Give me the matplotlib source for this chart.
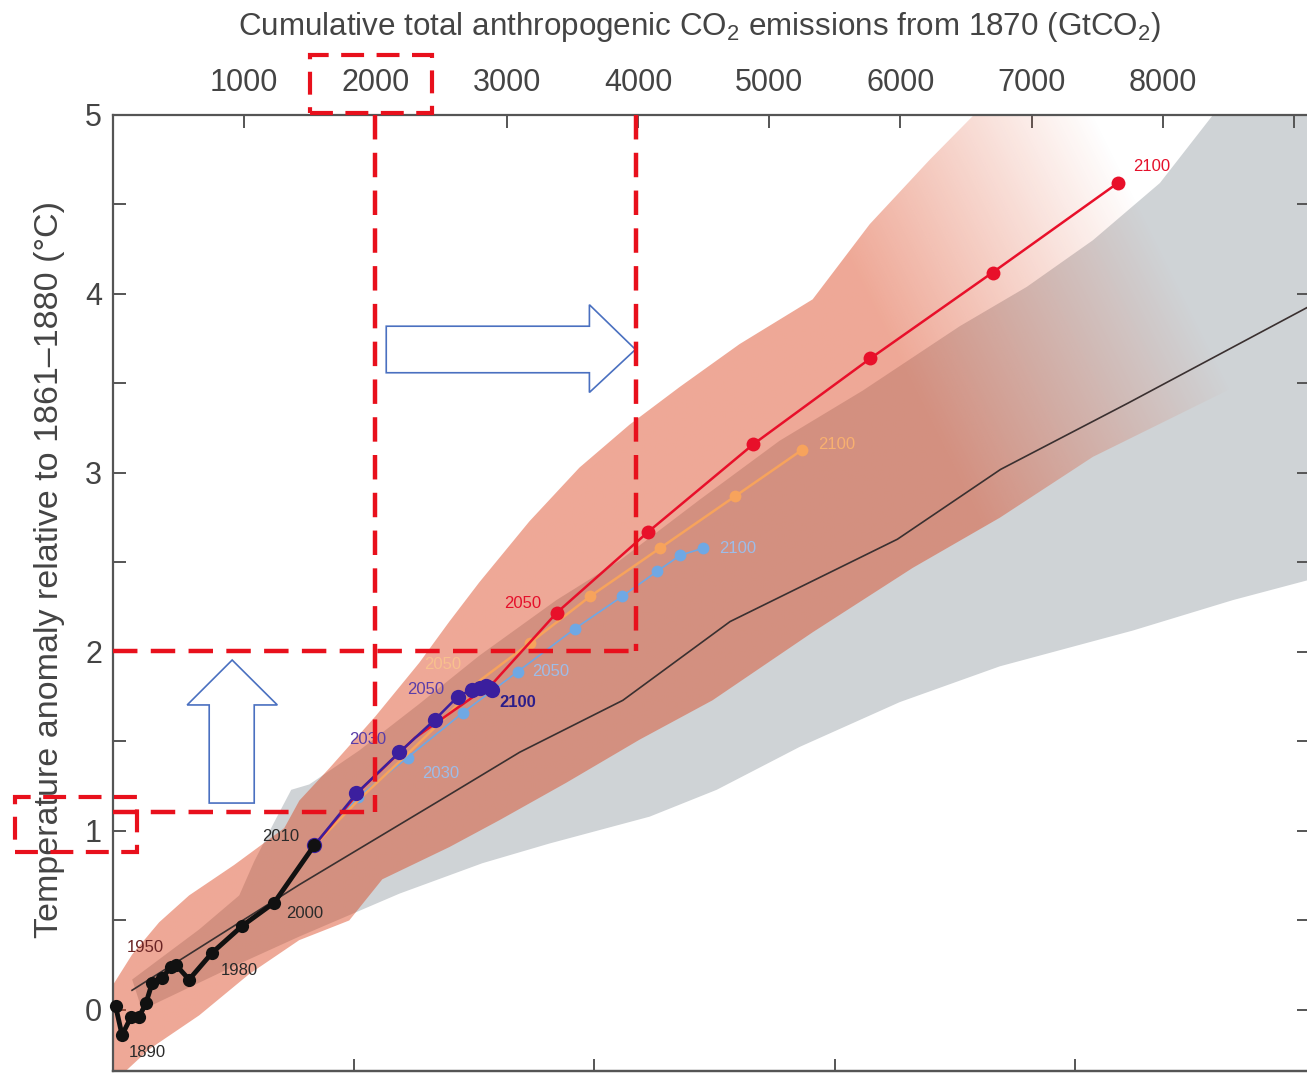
import numpy as np
import matplotlib
matplotlib.use('Agg')
import matplotlib.pyplot as plt
from matplotlib.path import Path
from matplotlib.patches import PathPatch, Polygon, Rectangle
from matplotlib.ticker import FixedLocator, MultipleLocator

plt.rcParams['font.family'] = ['Liberation Sans', 'DejaVu Sans']
plt.rcParams['mathtext.fontset'] = 'custom'
plt.rcParams['mathtext.rm'] = 'Liberation Sans'
plt.rcParams['mathtext.default'] = 'regular'

# ---------------- data (GtCO2, degC) ----------------
hist_G = [20, 69, 137, 198, 252, 298, 374, 443, 481, 580, 756, 985, 1229, 1534]
hist_T = [0.02, -0.14, -0.04, -0.04, 0.04, 0.15, 0.18, 0.24, 0.25, 0.17, 0.32, 0.47, 0.60, 0.92]

mean_G = [145, 1420, 2489, 3099, 3885, 4702, 5977, 6763, 7733, 9113]
mean_T = [0.11, 0.70, 1.17, 1.44, 1.73, 2.17, 2.63, 3.02, 3.39, 3.93]

rcp26_G = [1534, 1855, 2183, 2450, 2626, 2733, 2794, 2840, 2870, 2885]
rcp26_T = [0.92, 1.21, 1.44, 1.62, 1.75, 1.79, 1.80, 1.81, 1.80, 1.79]
rcp45_G = [1534, 1870, 2244, 2664, 3084, 3519, 3878, 4145, 4321, 4496]
rcp45_T = [0.92, 1.19, 1.41, 1.66, 1.89, 2.13, 2.31, 2.45, 2.54, 2.58]
rcp60_G = [1534, 1880, 2230, 2540, 2794, 3176, 3634, 4168, 4740, 5252]
rcp60_T = [0.92, 1.18, 1.42, 1.64, 1.84, 2.05, 2.31, 2.58, 2.87, 3.13]
rcp85_G = [1534, 1900, 2300, 2900, 3382, 4076, 4878, 5771, 6702, 7656]
rcp85_T = [0.92, 1.24, 1.52, 1.83, 2.22, 2.67, 3.16, 3.64, 4.12, 4.62]

# RCP range (upper edge left->right, lower edge right->left)
rcp_rng_G = [0, 146, 352, 580, 923, 1305, 1420, 1648, 1999, 2334, 2563, 2792, 3173, 3554,
             3936, 4317, 4774, 5331, 5766, 6223, 6559, 6833, 10569,
             10569, 9807, 9098, 8488, 7466, 6757, 6094, 5331, 4568, 4012, 3455,
             2944, 2563, 2052, 1800, 1419, 1037, 657, 275, 84, 0]
rcp_rng_T = [0.14, 0.31, 0.49, 0.64, 0.81, 1.016, 1.17, 1.35, 1.64, 1.94, 2.17, 2.39, 2.73, 3.03,
             3.27, 3.48, 3.72, 3.97, 4.39, 4.75, 5.00, 5.20, 5.20,
             4.19, 3.98, 3.70, 3.46, 3.09, 2.75, 2.47, 2.11, 1.73, 1.51, 1.27,
             1.06, 0.91, 0.73, 0.50, 0.39, 0.20, -0.03, -0.22, -0.35, -0.39]

# 1%/yr CO2 range
pct_rng_G = [146, 657, 962, 1076, 1229, 1358, 1496, 1877, 2334, 2792, 3379, 3859, 4469,
             5079, 5712, 6452, 6963, 7466, 7977, 8381, 8663, 10569,
             10569, 9099, 8534, 7772, 6758, 5995, 5233, 4600, 4089, 3326, 2815,
             2183, 1801, 1419, 908, 221]
pct_rng_T = [0.17, 0.45, 0.64, 0.83, 1.05, 1.23, 1.26, 1.45, 1.71, 1.98, 2.29, 2.51, 2.85,
             3.18, 3.46, 3.82, 4.04, 4.30, 4.62, 5.00, 5.31, 5.31,
             2.68, 2.40, 2.29, 2.12, 1.92, 1.72, 1.47, 1.23, 1.08, 0.93, 0.82,
             0.65, 0.53, 0.41, 0.24, 0.0]

top_ticks = [1000, 2000, 3000, 4000, 5000, 6000, 7000, 8000, 9000]
top_labels = ['1000', '2000', '3000', '4000', '5000', '6000', '7000', '8000', '']
gtc_ticks = [500, 1000, 1500, 2000, 2500]
y_ticks = [0, 1, 2, 3, 4, 5]

# year labels: (text, G, T, colour, weight)
year_labels = [
    ('1890', 122, -0.24, '#2a2a2a', 'normal'),
    ('1950', 107, 0.35, '#6b2424', 'normal'),
    ('1980', 824, 0.22, '#2a2a2a', 'normal'),
    ('2000', 1319, 0.54, '#2a2a2a', 'normal'),
    ('2010', 1137, 0.97, '#2a2a2a', 'normal'),
    ('2030', 1800, 1.51, '#5a3ea8', 'normal'),
    ('2050', 2242, 1.79, '#5a3ea8', 'normal'),
    ('2100', 2943, 1.72, '#2b1d8a', 'bold'),
    ('2030', 2357, 1.32, '#9dbde9', 'normal'),
    ('2050', 3196, 1.89, '#9dbde9', 'normal'),
    ('2100', 4621, 2.58, '#9dbde9', 'normal'),
    ('2050', 2370, 1.93, '#f8c08e', 'normal'),
    ('2100', 5370, 3.16, '#f8b070', 'normal'),
    ('2050', 2982, 2.27, '#e5102b', 'normal'),
    ('2100', 7771, 4.71, '#e5102b', 'normal'),
]

# ---------------- figure ----------------
W, H = 1307, 1073
fig = plt.figure(figsize=(W / 100, H / 100), dpi=100)
ax = fig.add_axes([113 / W, 1 - 1071 / H, (1309 - 113) / W, (1071 - 115) / H])
XL = (0, 9113)
YL = (-0.341, 5.0)

# 1%/yr range (grey)
ax.fill(pct_rng_G, pct_rng_T, color='#cfd3d6', lw=0, zorder=1)

# RCP range (red, fading towards the upper right)
red_patch = PathPatch(Path(np.column_stack([rcp_rng_G, rcp_rng_T])),
                      facecolor='none', edgecolor='none', transform=ax.transData)
ax.add_patch(red_patch)
gx = np.linspace(XL[0], XL[1], 700)
gy = np.linspace(YL[0], YL[1], 500)
GX, GY = np.meshgrid(gx, gy)
u = GX + 682.5 * GY
fade = np.clip((10900 - u) / (10900 - 8470), 0, 1)
rgba = np.zeros(GX.shape + (4,))
rgba[..., 0] = 218 / 255
rgba[..., 1] = 62 / 255
rgba[..., 2] = 22 / 255
rgba[..., 3] = 0.45 * fade
im = ax.imshow(rgba, extent=[XL[0], XL[1], YL[0], YL[1]], origin='lower',
               aspect='auto', interpolation='bilinear', zorder=2)
im.set_clip_path(red_patch)

# mean 1%/yr line
ax.plot(mean_G, mean_T, color='#3a3030', lw=1.2, zorder=3)

# RCP scenarios
ax.plot(rcp45_G, rcp45_T, color='#6fa8e4', lw=1.2, marker='o', ms=8.5, mew=0, zorder=4)
ax.plot(rcp60_G, rcp60_T, color='#f7a35c', lw=1.8, marker='o', ms=8.5, mew=0, zorder=5,
        markevery=list(range(5, 10)))
ax.plot(rcp85_G, rcp85_T, color='#e8102a', lw=1.8, marker='o', ms=10, mew=0, zorder=6,
        markevery=list(range(4, 10)))
ax.plot(rcp26_G, rcp26_T, color='#3b1f9e', lw=1.8, marker='o', ms=11, mew=0, zorder=7)

# historical
ax.plot(hist_G, hist_T, color='#111111', lw=3.5, marker='o', ms=9.5, mew=0, zorder=8,
        clip_on=False)

for txt, g, t, c, w in year_labels:
    ax.text(g, t, txt, color=c, fontsize=12, fontweight=w, ha='left', va='center',
            zorder=9)

ax.set_xlim(*XL)
ax.set_ylim(*YL)

# ---------------- axes styling ----------------
spc = '#555555'
for s in ax.spines.values():
    s.set_color(spc)
    s.set_linewidth(1.6)

ax.xaxis.tick_top()
ax.xaxis.set_major_locator(FixedLocator(top_ticks))
ax.set_xticklabels(top_labels)
ax.tick_params(axis='x', which='both', direction='in', length=9, width=1.4, color=spc,
               labelsize=22, labelcolor='#444444', pad=12, top=True, bottom=False)

ax.yaxis.set_major_locator(FixedLocator(y_ticks))
ax.yaxis.set_minor_locator(MultipleLocator(0.5))
ax.tick_params(axis='y', which='both', direction='in', length=9, width=1.4, color=spc,
               labelsize=22, labelcolor='#444444', pad=8, left=True, right=True,
               labelright=False)

sec = ax.secondary_xaxis('bottom', functions=(lambda g: np.asarray(g) * 12 / 44,
                                               lambda c: np.asarray(c) * 44 / 12))
sec.set_xticks(gtc_ticks)
sec.tick_params(direction='in', length=9, width=1.4, color=spc, labelbottom=False)
sec.spines['bottom'].set_color(spc)
sec.spines['bottom'].set_linewidth(1.6)

fig.text(700 / W, 1 - 27 / H,
         'Cumulative total anthropogenic CO$_2$ emissions from 1870 (GtCO$_2$)',
         ha='center', va='center', fontsize=22.6, color='#444444')
fig.text(50 / W, 1 - 570 / H, 'Temperature anomaly relative to 1861\u20131880 (\u00b0C)',
         rotation=90, ha='center', va='center', fontsize=24.5, color='#444444')

# ---------------- annotations ----------------
red_dash = dict(color='#e8101c', lw=3.2, ls=(0, (5.5, 3.0)), zorder=12, clip_on=False,
                solid_capstyle='butt', dash_capstyle='butt')
ax.plot([2000, 2000], [5.0, 1.106], **red_dash)
ax.plot([0, 2000], [1.106, 1.106], **red_dash)
ax.plot([3985, 3985], [5.0, 2.006], **red_dash)
ax.plot([0, 3985], [2.006, 2.006], **red_dash)

arrow_right = [(2082, 3.82), (3630, 3.82), (3630, 3.94), (3981, 3.69),
               (3630, 3.45), (3630, 3.56), (2082, 3.56)]
arrow_up = [(733, 1.156), (1076, 1.156), (1076, 1.704), (1252, 1.704),
            (908, 1.955), (565, 1.704), (733, 1.704)]
for poly in (arrow_right, arrow_up):
    ax.add_patch(Polygon(poly, closed=True, facecolor='white', edgecolor='#4a70c0',
                         lw=1.2, zorder=11))

for (x0, y0, x1, y1) in [(310, 55, 432, 113), (15, 797, 137, 852)]:
    fig.add_artist(Rectangle((x0 / W, 1 - y1 / H), (x1 - x0) / W, (y1 - y0) / H,
                             transform=fig.transFigure, fill=False,
                             edgecolor='#e8101c', lw=3.0, ls=(0, (5.5, 3.0)), zorder=20))

fig.savefig('out.png', dpi=100)
